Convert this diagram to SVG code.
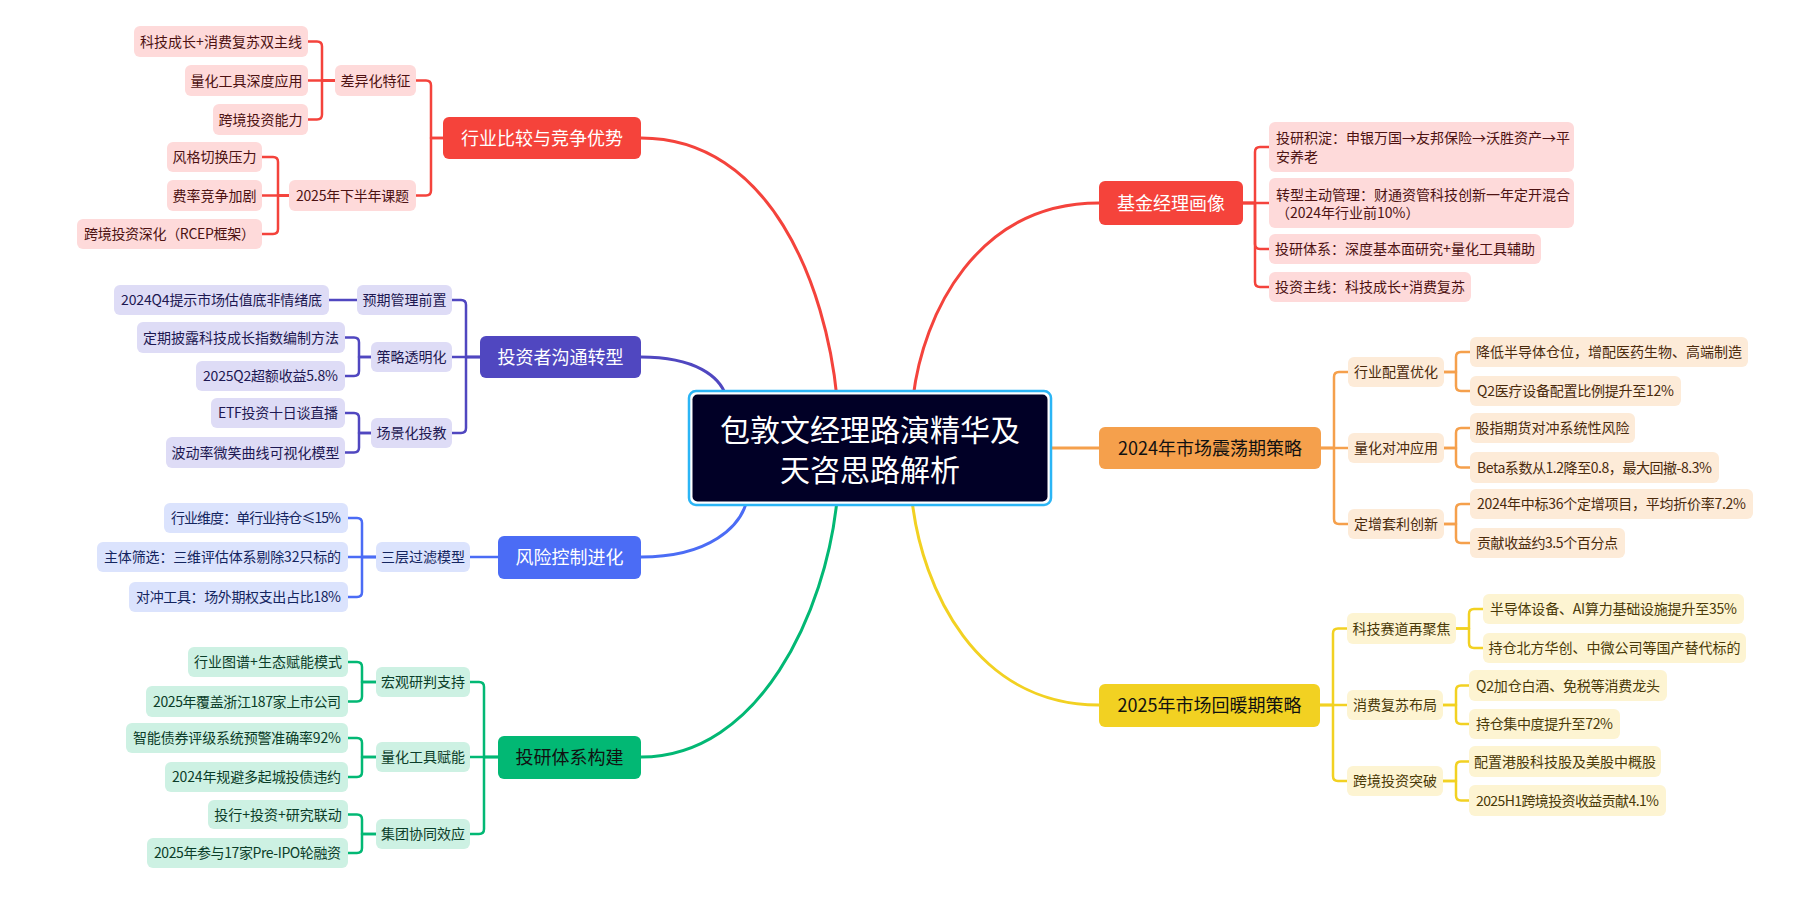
<svg xmlns="http://www.w3.org/2000/svg" width="1798" height="910" viewBox="0 0 1798 910">
<style>
text{font-family:"Noto Sans CJK SC","Noto Sans",sans-serif;font-size:14px;text-anchor:middle}
.mt{font-size:18px}
.rt{font-size:30px;fill:#fff}
.wl{fill:#fff}
.bk{fill:#111}
.lft{text-anchor:start}
.c{fill:none;stroke-width:2.5;stroke-linejoin:round}
.m{fill:none;stroke-width:3}
.cr{stroke:#f4433c}.cp{stroke:#5047c0}.cb{stroke:#4b6cf5}.cg{stroke:#02b874}.co{stroke:#f5a04c}.cy{stroke:#f2d122}
.mr{fill:#f5433b}.mp{fill:#5047c0}.mb{fill:#4b6cf5}.mg{fill:#02b874}.mo{fill:#f5a04c}.my{fill:#f2d122}
.lr{fill:#fedada}.lp{fill:#dedcf6}.lb{fill:#dbe3fd}.lg{fill:#cdf1e3}.lo{fill:#fdebd8}.ly{fill:#fdf4d2}
.tr{fill:#4d1212}.tp{fill:#1d1852}.tb{fill:#142560}.tg{fill:#0b3d29}.to{fill:#4a2a0c}.ty{fill:#4a3a08}
</style>
<g id="connectors">
<path class="m cr" d="M641,138 C770,138 826,285 837,398"/>
<path class="m cr" d="M1099,203 C977,203 923,313 913,398"/>
<path class="m cp" d="M641,357 C696,357 720,377 726,396"/>
<path class="m cb" d="M641,557 C710,557 741,526 747,500"/>
<path class="m cg" d="M641,757 C760,757 826,611 837,500"/>
<path class="m cy" d="M1099,705 C976,705 922,589 912,500"/>
<path class="m co" d="M1048,448 H1099"/>
<g class="c cr">
<path d="M443,138 H431 V85.5 Q431,80.5 426,80.5 H416"/>
<path d="M443,138 H431 V190.5 Q431,195.5 426,195.5 H416"/>
<path d="M335,80.5 H322 V46.5 Q322,41.5 317,41.5 H308"/>
<path d="M335,80.5 H308"/>
<path d="M335,80.5 H322 V114.5 Q322,119.5 317,119.5 H308"/>
<path d="M289,195.5 H278 V162 Q278,157 273,157 H262"/>
<path d="M289,195.5 H262"/>
<path d="M289,195.5 H278 V229 Q278,234 273,234 H262"/>
<path d="M1243,203 H1255 V152 Q1255,147 1260,147 H1269"/>
<path d="M1243,203 H1269"/>
<path d="M1243,203 H1255 V244 Q1255,249 1260,249 H1269"/>
<path d="M1243,203 H1255 V282 Q1255,287 1260,287 H1269"/>
</g>
<g class="c cp">
<path d="M480,357 H466 V305 Q466,300 461,300 H452"/>
<path d="M480,357 H452"/>
<path d="M480,357 H466 V428 Q466,433 461,433 H452"/>
<path d="M357,300 H329"/>
<path d="M371,357 H359 V342.5 Q359,337.5 354,337.5 H345"/>
<path d="M371,357 H359 V371 Q359,376 354,376 H345"/>
<path d="M371,433 H359 V418 Q359,413 354,413 H345"/>
<path d="M371,433 H359 V447.5 Q359,452.5 354,452.5 H345"/>
</g>
<g class="c cb">
<path d="M498,557 H470"/>
<path d="M376,557 H362 V523 Q362,518 357,518 H348"/>
<path d="M376,557 H348"/>
<path d="M376,557 H362 V592 Q362,597 357,597 H348"/>
</g>
<g class="c cg">
<path d="M498,757 H484 V687 Q484,682 479,682 H470"/>
<path d="M498,757 H470"/>
<path d="M498,757 H484 V829 Q484,834 479,834 H470"/>
<path d="M376,682 H362 V667 Q362,662 357,662 H348"/>
<path d="M376,682 H362 V696.5 Q362,701.5 357,701.5 H348"/>
<path d="M376,757 H362 V743 Q362,738 357,738 H348"/>
<path d="M376,757 H362 V772 Q362,777 357,777 H348"/>
<path d="M376,834 H362 V819.5 Q362,814.5 357,814.5 H348"/>
<path d="M376,834 H362 V848 Q362,853 357,853 H348"/>
</g>
<g class="c co">
<path d="M1321,448 H1334 V377 Q1334,372 1339,372 H1348"/>
<path d="M1321,448 H1348"/>
<path d="M1321,448 H1334 V519 Q1334,524 1339,524 H1348"/>
<path d="M1444,372 H1456 V357 Q1456,352 1461,352 H1470"/>
<path d="M1444,372 H1456 V386 Q1456,391 1461,391 H1470"/>
<path d="M1444,448 H1456 V433 Q1456,428 1461,428 H1470"/>
<path d="M1444,448 H1456 V462.5 Q1456,467.5 1461,467.5 H1470"/>
<path d="M1444,524 H1456 V509 Q1456,504 1461,504 H1470"/>
<path d="M1444,524 H1456 V538 Q1456,543 1461,543 H1470"/>
</g>
<g class="c cy">
<path d="M1320,705 H1333 V633.5 Q1333,628.5 1338,628.5 H1347"/>
<path d="M1320,705 H1347"/>
<path d="M1320,705 H1333 V776 Q1333,781 1338,781 H1347"/>
<path d="M1456,628.5 H1469 V614 Q1469,609 1474,609 H1483"/>
<path d="M1456,628.5 H1469 V643 Q1469,648 1474,648 H1483"/>
<path d="M1443,705 H1456 V690.5 Q1456,685.5 1461,685.5 H1469"/>
<path d="M1443,705 H1456 V719 Q1456,724 1461,724 H1469"/>
<path d="M1443,781 H1456 V766.5 Q1456,761.5 1461,761.5 H1469"/>
<path d="M1443,781 H1456 V795.5 Q1456,800.5 1461,800.5 H1469"/>
</g>
</g>

<g id="root">
<rect x="689" y="391" width="362" height="114" rx="7" fill="#fff" stroke="#2bb5f5" stroke-width="2.5"/>
<rect x="692.5" y="394.5" width="355" height="107" rx="5" fill="#010026"/>
<text class="rt" x="870" y="440.5">包敦文经理路演精华及</text>
<text class="rt" x="870" y="481">天咨思路解析</text>
</g>

<!-- Tree 1: 行业比较与竞争优势 -->
<g id="n-hangye"><rect class="mr" x="443" y="117" width="198" height="42" rx="6"/><text class="mt wl" x="542" y="144.5">行业比较与竞争优势</text></g>
<g id="n-chayi"><rect class="lr" x="335" y="65" width="81" height="31" rx="6"/><text class="tr" x="375.5" y="85.5">差异化特征</text></g>
<g id="n-xiabannian"><rect class="lr" x="289" y="180" width="127" height="31" rx="6"/><text class="tr" x="352.5" y="200.5" textLength="113">2025年下半年课题</text></g>
<g id="l-1"><rect class="lr" x="134" y="26" width="174" height="31" rx="6"/><text class="tr" x="221" y="46.5">科技成长+消费复苏双主线</text></g>
<g id="l-2"><rect class="lr" x="185" y="65" width="123" height="31" rx="6"/><text class="tr" x="246.5" y="85.5">量化工具深度应用</text></g>
<g id="l-3"><rect class="lr" x="213" y="104" width="95" height="31" rx="6"/><text class="tr" x="260.5" y="124.5">跨境投资能力</text></g>
<g id="l-4"><rect class="lr" x="167" y="142" width="95" height="30" rx="6"/><text class="tr" x="214.5" y="162">风格切换压力</text></g>
<g id="l-5"><rect class="lr" x="167" y="180" width="95" height="31" rx="6"/><text class="tr" x="214.5" y="200.5">费率竞争加剧</text></g>
<g id="l-6"><rect class="lr" x="77" y="219" width="185" height="30" rx="6"/><text class="tr" x="169.5" y="239" textLength="171">跨境投资深化（RCEP框架）</text></g>

<!-- Tree 2: 投资者沟通转型 -->
<g id="n-goutong"><rect class="mp" x="480" y="336" width="161" height="42" rx="6"/><text class="mt wl" x="560.5" y="363.5">投资者沟通转型</text></g>
<g id="n-yuqi"><rect class="lp" x="357" y="285" width="95" height="30" rx="6"/><text class="tp" x="404.5" y="305">预期管理前置</text></g>
<g id="n-celue"><rect class="lp" x="371" y="342" width="81" height="30" rx="6"/><text class="tp" x="411.5" y="362">策略透明化</text></g>
<g id="n-changjing"><rect class="lp" x="371" y="418" width="81" height="30" rx="6"/><text class="tp" x="411.5" y="438">场景化投教</text></g>
<g id="l-7"><rect class="lp" x="114" y="285" width="215" height="30" rx="6"/><text class="tp" x="221.5" y="305" textLength="201">2024Q4提示市场估值底非情绪底</text></g>
<g id="l-8"><rect class="lp" x="137" y="322" width="208" height="31" rx="6"/><text class="tp" x="241" y="342.5">定期披露科技成长指数编制方法</text></g>
<g id="l-9"><rect class="lp" x="196" y="361" width="149" height="30" rx="6"/><text class="tp" x="270.5" y="381" textLength="135">2025Q2超额收益5.8%</text></g>
<g id="l-10"><rect class="lp" x="211" y="398" width="134" height="30" rx="6"/><text class="tp" x="278" y="418" textLength="120">ETF投资十日谈直播</text></g>
<g id="l-11"><rect class="lp" x="166" y="437" width="179" height="31" rx="6"/><text class="tp" x="255.5" y="457.5">波动率微笑曲线可视化模型</text></g>

<!-- Tree 3: 风险控制进化 -->
<g id="n-fengxian"><rect class="mb" x="498" y="536" width="143" height="43" rx="6"/><text class="mt wl" x="569.5" y="564">风险控制进化</text></g>
<g id="n-sanceng"><rect class="lb" x="376" y="542" width="94" height="30" rx="6"/><text class="tb" x="423" y="562">三层过滤模型</text></g>
<g id="l-12"><rect class="lb" x="164" y="503" width="184" height="30" rx="6"/><text class="tb" x="256" y="523" textLength="170">行业维度：单行业持仓≤15%</text></g>
<g id="l-13"><rect class="lb" x="97" y="542" width="251" height="30" rx="6"/><text class="tb" x="222.5" y="562" textLength="237">主体筛选：三维评估体系剔除32只标的</text></g>
<g id="l-14"><rect class="lb" x="129" y="582" width="219" height="30" rx="6"/><text class="tb" x="238.5" y="602" textLength="205">对冲工具：场外期权支出占比18%</text></g>

<!-- Tree 4: 投研体系构建 -->
<g id="n-touyan"><rect class="mg" x="498" y="736" width="143" height="43" rx="6"/><text class="mt bk" x="569.5" y="764">投研体系构建</text></g>
<g id="n-hongguan"><rect class="lg" x="376" y="667" width="94" height="30" rx="6"/><text class="tg" x="423" y="687">宏观研判支持</text></g>
<g id="n-lianghua"><rect class="lg" x="376" y="742" width="94" height="30" rx="6"/><text class="tg" x="423" y="762">量化工具赋能</text></g>
<g id="n-jituan"><rect class="lg" x="376" y="819" width="94" height="30" rx="6"/><text class="tg" x="423" y="839">集团协同效应</text></g>
<g id="l-15"><rect class="lg" x="188" y="647" width="160" height="30" rx="6"/><text class="tg" x="268" y="667">行业图谱+生态赋能模式</text></g>
<g id="l-16"><rect class="lg" x="146" y="686" width="202" height="31" rx="6"/><text class="tg" x="247" y="706.5" textLength="188">2025年覆盖浙江187家上市公司</text></g>
<g id="l-17"><rect class="lg" x="126" y="723" width="222" height="30" rx="6"/><text class="tg" x="237" y="743" textLength="208">智能债券评级系统预警准确率92%</text></g>
<g id="l-18"><rect class="lg" x="165" y="762" width="183" height="30" rx="6"/><text class="tg" x="256.5" y="782" textLength="169">2024年规避多起城投债违约</text></g>
<g id="l-19"><rect class="lg" x="208" y="800" width="140" height="29" rx="6"/><text class="tg" x="278" y="819.5">投行+投资+研究联动</text></g>
<g id="l-20"><rect class="lg" x="147" y="838" width="201" height="30" rx="6"/><text class="tg" x="247.5" y="858" textLength="187">2025年参与17家Pre-IPO轮融资</text></g>

<!-- Right tree 1: 基金经理画像 -->
<g id="n-jijin"><rect class="mr" x="1099" y="181" width="144" height="44" rx="6"/><text class="mt wl" x="1171" y="209.5">基金经理画像</text></g>
<g id="l-21"><rect class="lr" x="1269" y="122" width="305" height="50" rx="6"/><text class="tr lft" x="1276" y="143">投研积淀：申银万国→友邦保险→沃胜资产→平</text><text class="tr lft" x="1276" y="162">安养老</text></g>
<g id="l-22"><rect class="lr" x="1269" y="178" width="305" height="50" rx="6"/><text class="tr lft" x="1276" y="199.5">转型主动管理：财通资管科技创新一年定开混合</text><text class="tr lft" x="1276" y="218">（2024年行业前10%）</text></g>
<g id="l-23"><rect class="lr" x="1269" y="234" width="272" height="30" rx="6"/><text class="tr" x="1405" y="254">投研体系：深度基本面研究+量化工具辅助</text></g>
<g id="l-24"><rect class="lr" x="1269" y="272" width="202" height="30" rx="6"/><text class="tr" x="1370" y="292">投资主线：科技成长+消费复苏</text></g>

<!-- Right tree 2: 2024年市场震荡期策略 -->
<g id="n-2024"><rect class="mo" x="1099" y="427" width="222" height="42" rx="6"/><text class="mt bk" x="1210" y="454.5">2024年市场震荡期策略</text></g>
<g id="n-peizhi"><rect class="lo" x="1348" y="357" width="96" height="30" rx="6"/><text class="to" x="1396" y="377">行业配置优化</text></g>
<g id="n-duichong"><rect class="lo" x="1348" y="433" width="96" height="30" rx="6"/><text class="to" x="1396" y="453">量化对冲应用</text></g>
<g id="n-dingzeng"><rect class="lo" x="1348" y="509" width="96" height="30" rx="6"/><text class="to" x="1396" y="529">定增套利创新</text></g>
<g id="l-25"><rect class="lo" x="1470" y="337" width="278" height="30" rx="6"/><text class="to" x="1609" y="357">降低半导体仓位，增配医药生物、高端制造</text></g>
<g id="l-26"><rect class="lo" x="1470" y="376" width="211" height="30" rx="6"/><text class="to" x="1575.5" y="396" textLength="197">Q2医疗设备配置比例提升至12%</text></g>
<g id="l-27"><rect class="lo" x="1470" y="413" width="165" height="30" rx="6"/><text class="to" x="1552.5" y="433">股指期货对冲系统性风险</text></g>
<g id="l-28"><rect class="lo" x="1470" y="452" width="249" height="31" rx="6"/><text class="to" x="1594.5" y="472.5" textLength="235">Beta系数从1.2降至0.8，最大回撤-8.3%</text></g>
<g id="l-29"><rect class="lo" x="1470" y="489" width="283" height="30" rx="6"/><text class="to" x="1611.5" y="509" textLength="269">2024年中标36个定增项目，平均折价率7.2%</text></g>
<g id="l-30"><rect class="lo" x="1470" y="528" width="155" height="30" rx="6"/><text class="to" x="1547.5" y="548" textLength="141">贡献收益约3.5个百分点</text></g>

<!-- Right tree 3: 2025年市场回暖期策略 -->
<g id="n-2025"><rect class="my" x="1099" y="684" width="221" height="43" rx="6"/><text class="mt bk" x="1209.5" y="712">2025年市场回暖期策略</text></g>
<g id="n-keji"><rect class="ly" x="1347" y="613" width="109" height="31" rx="6"/><text class="ty" x="1401.5" y="633.5">科技赛道再聚焦</text></g>
<g id="n-xiaofei"><rect class="ly" x="1347" y="690" width="96" height="30" rx="6"/><text class="ty" x="1395" y="710">消费复苏布局</text></g>
<g id="n-kuajing"><rect class="ly" x="1347" y="766" width="96" height="30" rx="6"/><text class="ty" x="1395" y="786">跨境投资突破</text></g>
<g id="l-31"><rect class="ly" x="1483" y="594" width="261" height="30" rx="6"/><text class="ty" x="1613.5" y="614" textLength="247">半导体设备、AI算力基础设施提升至35%</text></g>
<g id="l-32"><rect class="ly" x="1483" y="633" width="263" height="30" rx="6"/><text class="ty" x="1614.5" y="653">持仓北方华创、中微公司等国产替代标的</text></g>
<g id="l-33"><rect class="ly" x="1469" y="670" width="198" height="31" rx="6"/><text class="ty" x="1568" y="690.5" textLength="184">Q2加仓白酒、免税等消费龙头</text></g>
<g id="l-34"><rect class="ly" x="1469" y="709" width="151" height="30" rx="6"/><text class="ty" x="1544.5" y="729" textLength="137">持仓集中度提升至72%</text></g>
<g id="l-35"><rect class="ly" x="1469" y="746" width="192" height="31" rx="6"/><text class="ty" x="1565" y="766.5">配置港股科技股及美股中概股</text></g>
<g id="l-36"><rect class="ly" x="1469" y="785" width="197" height="31" rx="6"/><text class="ty" x="1567.5" y="805.5" textLength="183">2025H1跨境投资收益贡献4.1%</text></g>
</svg>
